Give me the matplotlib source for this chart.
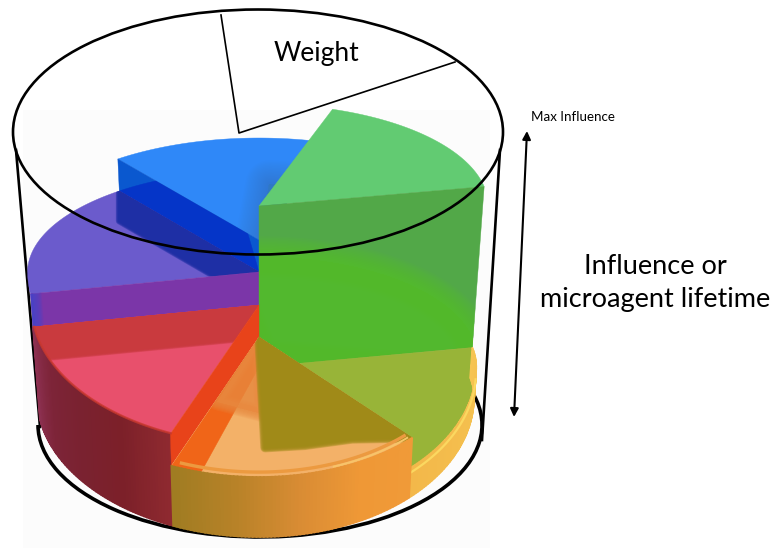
import numpy as np
import matplotlib
matplotlib.use("Agg")
import matplotlib.pyplot as plt
from matplotlib.patches import Polygon, Ellipse, Rectangle, Arc
from matplotlib.colors import to_rgb

plt.rcParams['font.family'] = ['Lato', 'DejaVu Sans']

# wedges in drawing order around the pie, clockwise from the back right
slice_names = ["green", "olive", "orange", "red", "purple", "blue"]
slice_weights = [60.5, 57.0, 67.0, 58.0, 61.6, 55.9]   # degrees
slice_influence = [191, 30, 60, 92, 125, 157]          # height in px
first_angle = -71.5

top_colors = ["#62cb72", "#98b438", "#f3b168", "#e8506c", "#6b5bcc", "#2f88f8"]
wall_colors = ["#52a848", None, None, "#e8431a", "#7b36a8", "#0a58cf"]
side_colors = {
    "olive": ["#f6c452", "#f4bf4e", "#f3b84a"],
    "orange": ["#f09a38", "#ef9836", "#d98c34", "#b88228", "#a07c22"],
    "red": ["#8f2a30", "#7c2029", "#7a2230", "#7d2438", "#8c3050"],
}

# pie geometry
CX = 259
BASE_Y = 397
RY_NEAR = 140
RY_FAR = 102

edges = np.cumsum([first_angle] + slice_weights)
start = dict(zip(slice_names, edges[:-1]))
end = dict(zip(slice_names, edges[1:]))
height = dict(zip(slice_names, slice_influence))
top_color = dict(zip(slice_names, top_colors))
wall_color = dict(zip(slice_names, wall_colors))


def project(theta, r, h):
    c, s = np.cos(np.radians(theta)), np.sin(np.radians(theta))
    w = (1 - c) / 2
    rx = w * (222 + 0.075 * h) + (1 - w) * (215 + 0.075 * h)
    ry = RY_NEAR if s > 0 else RY_FAR
    return CX + r * rx * c, BASE_Y - h + r * ry * s


def arc(t0, t1, h, r=1.0, n=60):
    return [project(t, r, h) for t in np.linspace(t0, t1, n)]


def wedge(t0, t1, h, r=1.0):
    return [project(0, 0, h)] + arc(t0, t1, h, r)


fig = plt.figure(figsize=(7.75, 5.48), dpi=100)
ax = fig.add_axes([0, 0, 1, 1])
ax.set_xlim(0, 775)
ax.set_ylim(548, 0)
ax.axis("off")


def fill(verts, color, alpha=1.0, z=2, clip=None, lw=0.3):
    p = Polygon(verts, closed=True, fc=color, ec=color, lw=lw, alpha=alpha, zorder=z)
    ax.add_patch(p)
    if clip is not None:
        p.set_clip_path(clip)
    return p


def soft_fill(verts, color, alpha=0.9, blur=8, z=2, clip=None, layers=8):
    # stacked strokes give the polygon a soft edge
    a = 1 - (1 - alpha) ** (1 / layers)
    for i in range(layers):
        lw = blur * (1 - i / layers)
        p = Polygon(verts, closed=True, fc=color, ec=color, lw=lw, alpha=a,
                    joinstyle="round", zorder=z)
        ax.add_patch(p)
        if clip is not None:
            p.set_clip_path(clip)


def side_wall(name, z=2):
    # outer rim of a wedge, split in strips so the colour can run along it
    stops = [np.array(to_rgb(c)) for c in side_colors[name]]
    t = np.linspace(start[name], end[name], 70)
    h = height[name]
    for i in range(len(t) - 1):
        f = i / (len(t) - 2) * (len(stops) - 1)
        k = min(int(f), len(stops) - 2)
        col = stops[k] + (stops[k + 1] - stops[k]) * (f - k)
        quad = [project(t[i], 1, h), project(t[i + 1], 1, h),
                project(t[i + 1], 1, 0), project(t[i], 1, 0)]
        fill(quad, col, z=z, lw=1.2)


def radial_wall(theta, h_top, h_low, color, z=2):
    verts = [project(theta, 0, h_top), project(theta, 1, h_top),
             project(theta, 1, h_low), project(theta, 0, h_low)]
    return fill(verts, color, z=z)


def wall_shadow(name, theta, depth, color, blur=6, z=2):
    # darker band that a taller neighbour leaves on a wedge's top
    h = height[name]
    clip = fill(wedge(start[name], end[name], h), top_color[name], z=z)
    a = project(theta, 1, h)
    o = project(0, 0, h)
    verts = [o, a, (a[0], a[1] + depth), (o[0], o[1] + depth)]
    soft_fill(verts, color, alpha=0.98, blur=blur, z=z, clip=clip)
    return clip


# faint paper tone behind the pie
ax.add_patch(Rectangle((23, 110), 467, 438, fc="#fcfcfc", ec="none", zorder=0))

# glass cylinder, the parts that sit behind the pie
ax.plot([16, 40], [150, 427], color="black", lw=1.9, zorder=1)
ax.plot([500, 482], [150, 440], color="black", lw=1.9, zorder=1)
ax.add_patch(Arc((260, 425), 444, 224, theta1=-8, theta2=180, color="black", lw=2.6, zorder=1))

# blue wedge
name = "blue"
blue_top = fill(wedge(start[name], end[name], height[name]), top_color[name], z=2)
soft_fill(wedge(start[name] + 42, end[name], height[name], r=0.55), "#3a78b8", alpha=0.45, blur=34, z=2,
          clip=blue_top, layers=16)
blue_wall = radial_wall(start[name], height[name], height["purple"], wall_color[name], z=3)
fill(wedge(start["purple"], start[name] + 30, height["purple"]), "#0535c8", z=3, clip=blue_wall)

# green wedge, wall first and then its top
name = "green"
fill(wedge(start[name], end[name], height[name]), top_color[name], z=3)
green_wall = radial_wall(end[name], height[name], height["olive"], wall_color[name], z=4)
soft_fill(wedge(-100, 8, 38), "#5ac22a", alpha=0.75, blur=30, z=4, clip=green_wall, layers=14)

# purple wedge
name = "purple"
wall_shadow(name, end[name], 30, "#1e2fa5", blur=5, z=3)
p_wall = radial_wall(start[name], height[name], height["red"], wall_color[name], z=3)
lt = project(start[name], 1, height[name])
lb = project(start[name], 1, height["red"])
soft_fill([lt, lb, (lb[0] + 2, lb[1]), (lt[0] + 2, lt[1])], "#4a44c8", alpha=0.85, blur=13, z=3, clip=p_wall)

# red wedge
name = "red"
wall_shadow(name, end[name], 32, "#c93a3e", blur=5, z=4)
radial_wall(start[name], height[name], height["orange"], wall_color[name], z=5)
side_wall("red", z=4)
ax.plot(*zip(*arc(start[name], end[name], height[name], r=0.995)), color="#c8382e", lw=1.6, alpha=0.8, zorder=5)

# olive wedge with its yellow rim
name = "olive"
fill(wedge(start[name], end[name], height[name]), top_color[name], z=5)
side_wall("olive", z=5)
ax.plot(*zip(*arc(start[name] + 14, end[name], height[name] - 5, r=1.0)), color="#fbd860", lw=1.6, zorder=5)

# orange wedge, covers the inner corner of the olive one
name = "orange"
h = height[name]
orange_top = fill(wedge(start[name], end[name], h), top_color[name], z=6)
o = project(0, 0, h)
band_arc = arc(start["red"] - 8, start["red"], h)
fill(band_arc + [o, project(0, 0, h - 30)], "#f06518", z=6, clip=orange_top)
soft_fill([o, project(88, 0.55, h), project(112, 0.5, h)], "#e88a40", alpha=0.8, blur=12, z=6, clip=orange_top)
soft_fill([o, project(end["olive"], 1, h), project(60, 0.84, h), project(75, 0.8, h), project(88, 0.79, h)],
          "#a08a18", alpha=0.98, blur=7, z=6, clip=orange_top)
side_wall("orange", z=6)
ax.plot(*zip(*arc(start[name] + 1, end[name] - 2, h, r=0.965)), color="#ec9a40", lw=2.4, zorder=6)
ax.plot(*zip(*arc(start[name] + 1, start[name] + 24, h, r=0.985)), color="#f8c468", lw=1.4, zorder=6)

# rim of the glass cylinder, in front of everything
ax.add_patch(Ellipse((258, 132), 490, 245, fc="none", ec="black", lw=1.9, zorder=8))

# weight sector marked on the rim
ax.plot([221, 239, 455], [15, 133, 62], color="black", lw=1.2, zorder=8)
ax.text(316, 54, "Weight", fontsize=19, ha="center", va="center", color="black", zorder=9)

# influence scale on the right
ax.annotate("", xy=(527, 131), xytext=(514, 417), zorder=9,
            arrowprops=dict(arrowstyle="<|-|>", color="black", lw=1.5, mutation_scale=12, shrinkA=0, shrinkB=0))
ax.text(531, 117, "Max Influence", fontsize=9.6, ha="left", va="center", color="black")
ax.text(655, 266, "Influence or", fontsize=19.5, ha="center", va="center", color="black")
ax.text(655, 300, "microagent lifetime", fontsize=19.5, ha="center", va="center", color="black")

fig.savefig("out.png", dpi=100)
